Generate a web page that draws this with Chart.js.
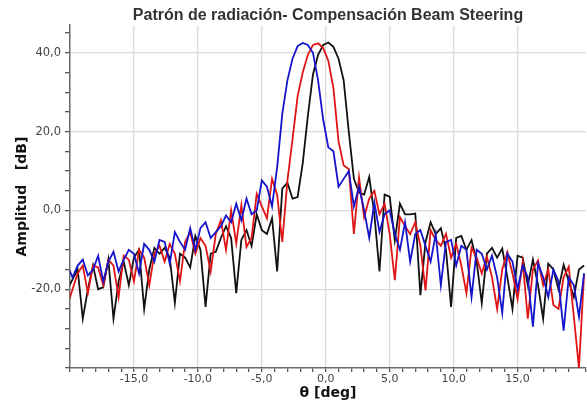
<!DOCTYPE html>
<html>
<head>
<meta charset="utf-8">
<script src="https://cdn.jsdelivr.net/npm/chart.js@4.4.1/dist/chart.umd.min.js"></script>
<style>
html,body{margin:0;padding:0;background:#fff;}
#wrap{width:587px;height:402px;}
</style>
</head>
<body>
<div id="wrap"><canvas id="c" width="587" height="402"></canvas></div>
<script>
// Angles (deg)
const angles = [-20.2,-19.8,-19.4,-19.0,-18.6,-18.2,-17.8,-17.4,-17.0,-16.6,-16.2,-15.8,-15.4,-15.0,-14.6,-14.2,-13.8,-13.4,-13.0,-12.6,-12.2,-11.8,-11.4,-11.0,-10.6,-10.2,-9.8,-9.4,-9.0,-8.6,-8.2,-7.8,-7.4,-7.0,-6.6,-6.2,-5.8,-5.4,-5.0,-4.6,-4.2,-3.8,-3.4,-3.0,-2.6,-2.2,-1.8,-1.4,-1.0,-0.6,-0.2,0.2,0.6,1.0,1.4,1.8,2.2,2.6,3.0,3.4,3.8,4.2,4.6,5.0,5.4,5.8,6.2,6.6,7.0,7.4,7.8,8.2,8.6,9.0,9.4,9.8,10.2,10.6,11.0,11.4,11.8,12.2,12.6,13.0,13.4,13.8,14.2,14.6,15.0,15.4,15.8,16.2,16.6,17.0,17.4,17.8,18.2,18.6,19.0,19.4,19.8,20.2];

// Black series (dB)
const blackDb = [-20,-17.5,-15,-27.5,-20,-14,-20,-19.5,-12.5,-27.5,-18,-13,-19,-12,-10,-25,-15,-9.5,-11,-9.5,-12,-23.5,-11,-12,-14.5,-6.5,-10,-24.5,-11,-10.5,-7,-4,-7,-21,-7.5,-5,-9,-1,-5,-6,-2,-15.5,5.5,7,3,3.4,12,24,34.5,39.5,42,42.6,41.5,38.5,33,20,8,4.5,4,8.5,-1,-15.5,4,3.5,-7.6,1.7,-1,-1,-0.8,-21.5,-8,-3,-6,-4.5,-10,-24.5,-7,-6.5,-10,-7.5,-13,-23.5,-11,-9.5,-12,-9.7,-17,-25,-11.5,-12,-19,-12.5,-19,-27.5,-13.5,-15,-20,-13.8,-18,-22,-15,-14];

// Red series (dB)
const redDb = [-24,-20,-16,-14,-21,-14,-14.5,-19,-12.5,-14,-22,-11.5,-12.5,-18,-10,-12,-19,-11,-9,-13,-8.5,-11,-18,-8,-5.5,-11,-7,-9,-15.5,-6,-2.5,-10,0,-8.4,1.3,-9.3,-7,4.2,1,-2,8,4,-8,7.5,18,29,35,39.5,42,42.4,41.2,38,31,17.5,11.4,10.5,-6,8.4,-1.7,3,5,-1,1.7,-6,-17.7,-1.7,-4,-6,-3,-9,-20.3,-5,-7.5,-9,-5.9,-12,-8.5,-14,-21,-9.5,-12,-16,-11.8,-17,-25,-15,-10.6,-16,-22.5,-13,-27.5,-15,-12.7,-19,-15,-24,-25,-17,-14.3,-27,-40,-16];

// Blue series (dB)
const blueDb = [-14,-17,-14,-12.5,-16.5,-15,-11.5,-18,-13,-10.5,-15.5,-12.5,-10,-11,-16,-8.5,-10,-13,-7.5,-8,-13.5,-5.5,-8,-10,-4.5,-10,-4.5,-3,-7,-5.5,-4,-1.3,-3,1.7,-2.5,3,-1,0,7.6,6,1,11,24.5,33,38.5,41.7,42.5,42,40,33,23,16,15,6,8,10,1,6,0,-7,2,-5.5,-1,0,-6,-10,-3,-13,-6,-5,-9,-13,-6,-19,-8,-7.5,-14,-9,-10,-22,-10,-11,-15,-11.5,-17,-26,-11,-13,-20,-14,-17,-29.5,-13.5,-17,-22,-15,-18,-30.5,-17,-19,-27,-16];

const xMajor = [-15,-10,-5,0,5,10,15];
const yMajor = [-20,0,20,40];

const fmt = v => v.toFixed(1).replace('.', ',');
const toPts = arr => angles.map((a,i) => ({x:a, y:arr[i]}));

new Chart(document.getElementById('c'), {
  type: 'line',
  data: {
    datasets: [
      {data: toPts(blueDb), borderColor:'#1414cc', borderWidth:1.8, pointRadius:0, tension:0},
      {data: toPts(redDb), borderColor:'#e01414', borderWidth:1.8, pointRadius:0, tension:0},
      {data: toPts(blackDb), borderColor:'#111111', borderWidth:1.8, pointRadius:0, tension:0}
    ]
  },
  options: {
    responsive:false, devicePixelRatio:1, animation:false,
    layout:{padding:{left:0,right:0,top:0,bottom:0}},
    plugins:{
      legend:{display:false}, tooltip:{enabled:false},
      title:{display:true, fullSize:false, text:'Patrón de radiación- Compensación Beam Steering',
        color:'#333', font:{family:'Liberation Sans', size:16, weight:'bold'}, padding:{top:6,bottom:0}}
    },
    scales:{
      x:{type:'linear', min:-20, max:20.35,
        afterFit: s => { s.height = 34; },
        border:{color:'#6a6a6a', width:1.5},
        grid:{color: c => (c.tick && xMajor.includes(c.tick.value)) ? '#d9d9d9' : 'rgba(0,0,0,0)',
              tickColor:'#555', tickLength:4, lineWidth:1.3},
        ticks:{stepSize:1, autoSkip:false, maxRotation:0, padding:1, color:'#444',
          font:{family:'DejaVu Sans', size:11},
          callback: v => xMajor.includes(v) ? fmt(v) : ''},
        title:{display:true, text:'θ [deg]', color:'#111', font:{family:'DejaVu Sans', size:14, weight:'bold'}, padding:{top:0,bottom:0}}
      },
      y:{type:'linear', min:-40, max:47,
        afterFit: s => { s.width = 70; },
        border:{color:'#6a6a6a', width:1.5},
        grid:{color: c => (c.tick && yMajor.includes(c.tick.value)) ? '#d9d9d9' : 'rgba(0,0,0,0)',
              tickColor:'#555', tickLength:5, lineWidth:1.3},
        ticks:{stepSize:5, includeBounds:false, autoSkip:false, padding:4, color:'#444',
          font:{family:'DejaVu Sans', size:11.5},
          callback: v => yMajor.includes(v) ? fmt(v) : ''},
        title:{display:true, text:'Amplitud   [dB]', color:'#111', font:{family:'DejaVu Sans', size:14, weight:'bold'}, padding:{top:14,bottom:0}}
      }
    }
  }
});
</script>
</body>
</html>
